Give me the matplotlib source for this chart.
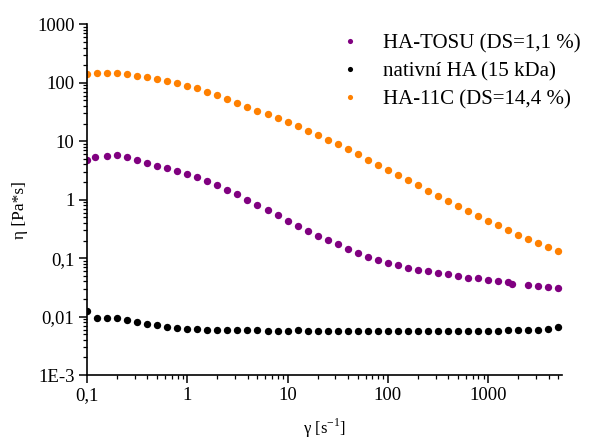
import matplotlib
matplotlib.use("Agg")
import matplotlib.pyplot as plt
from matplotlib.ticker import FixedLocator, FixedFormatter, LogLocator, NullFormatter

# shear rate [1/s]
shear_rate = [0.1, 0.126, 0.158, 0.2, 0.251, 0.316, 0.398, 0.501, 0.631, 0.794,
              1, 1.26, 1.58, 2, 2.51, 3.16, 3.98, 5.01, 6.31, 7.94,
              10, 12.6, 15.8, 20, 25.1, 31.6, 39.8, 50.1, 63.1, 79.4,
              100, 126, 158, 200, 251, 316, 398, 501, 631, 794,
              1000, 1260, 1580, 2000, 2510, 3160, 3980, 5010]

# HA-TOSU shear rates (slightly different points)
shear_rate_tosu = [0.1, 0.12, 0.158, 0.2, 0.251, 0.316, 0.398, 0.501, 0.631, 0.794,
                   1, 1.26, 1.58, 2, 2.51, 3.16, 3.98, 5.01, 6.31, 7.94,
                   10, 12.6, 15.8, 20, 25.1, 31.6, 39.8, 50.1, 63.1, 79.4,
                   100, 126, 158, 200, 251, 316, 398, 501, 631, 794,
                   1000, 1260, 1580, 1738, 2510, 3160, 3980, 5010]

eta_tosu = [4.77, 5.31, 5.65, 5.74, 5.31, 4.77, 4.29, 3.81, 3.44, 3.09,
            2.75, 2.41, 2.06, 1.76, 1.46, 1.24, 0.99, 0.81, 0.665, 0.54,
            0.436, 0.358, 0.294, 0.243, 0.201, 0.171, 0.143, 0.123, 0.106, 0.094,
            0.0834, 0.0757, 0.069, 0.0634, 0.0594, 0.0556, 0.0528, 0.0494, 0.0457, 0.0451,
            0.0427, 0.041, 0.039, 0.0365, 0.0347, 0.0333, 0.0321, 0.0308]

eta_native = [0.0124, 0.0093, 0.0095, 0.0093, 0.0086, 0.0081, 0.0076, 0.0072, 0.0067, 0.0064,
              0.0062, 0.0061, 0.0060, 0.0060, 0.0059, 0.0058, 0.0058, 0.0058, 0.0057, 0.0057,
              0.0057, 0.0058, 0.0057, 0.0057, 0.0056, 0.0057, 0.0057, 0.0057, 0.0056, 0.0057,
              0.0056, 0.0056, 0.0056, 0.0056, 0.0056, 0.0057, 0.0056, 0.0056, 0.0057, 0.0057,
              0.0057, 0.0057, 0.0058, 0.0058, 0.0059, 0.0060, 0.0062, 0.0065]

eta_11c = [143, 145, 147, 145, 140, 132, 125, 116, 107, 99,
           89, 80, 70, 62.5, 52.8, 45, 38.7, 33.3, 28.9, 24.9,
           21.1, 18.2, 15.1, 12.8, 10.6, 8.86, 7.27, 6.04, 4.82, 3.92,
           3.22, 2.64, 2.15, 1.78, 1.42, 1.17, 0.96, 0.788, 0.647, 0.531,
           0.436, 0.364, 0.303, 0.251, 0.210, 0.179, 0.153, 0.134]

labels = ["HA-TOSU (DS=1,1 %)", "nativní HA (15 kDa)", "HA-11C (DS=14,4 %)"]
colors = ["#800080", "#000000", "#ff8000"]

x_ticks = [0.1, 1, 10, 100, 1000]
x_ticklabels = ["0,1", "1", "10", "100", "1000"]
y_ticks = [1e-3, 1e-2, 1e-1, 1, 10, 100, 1000]
y_ticklabels = ["1E-3", "0,01", "0,1", "1", "10", "100", "1000"]

plt.rcParams['font.family'] = ['Liberation Serif', 'DejaVu Serif']
plt.rcParams['mathtext.fontset'] = 'custom'
plt.rcParams['mathtext.rm'] = 'Liberation Serif'

fig = plt.figure(figsize=(5.89, 4.41), dpi=100)
ax = fig.add_axes([87/589, 1-375/441, (562-87)/589, (375-24.3)/441])

ms = 5.3
ax.plot(shear_rate_tosu, eta_tosu, 'o', color=colors[0], ms=ms, mec='none', label=labels[0])
ax.plot(shear_rate, eta_native, 'o', color=colors[1], ms=ms, mec='none', label=labels[1])
ax.plot(shear_rate, eta_11c, 'o', color=colors[2], ms=ms, mec='none', label=labels[2])

ax.set_xscale('log')
ax.set_yscale('log')
ax.set_xlim(0.1, 5445)
ax.set_ylim(1e-3, 1000)

ax.xaxis.set_major_locator(FixedLocator(x_ticks))
ax.xaxis.set_major_formatter(FixedFormatter(x_ticklabels))
ax.yaxis.set_major_locator(FixedLocator(y_ticks))
ax.yaxis.set_major_formatter(FixedFormatter(y_ticklabels))
ax.xaxis.set_minor_locator(LogLocator(base=10, subs=range(2, 10), numticks=20))
ax.yaxis.set_minor_locator(LogLocator(base=10, subs=range(2, 10), numticks=20))
ax.xaxis.set_minor_formatter(NullFormatter())
ax.yaxis.set_minor_formatter(NullFormatter())

for s in ['top', 'right']:
    ax.spines[s].set_visible(False)
for s in ['left', 'bottom']:
    ax.spines[s].set_linewidth(1.2)

ax.tick_params(which='major', direction='out', length=6, width=1.1, labelsize=13.5, pad=3)
ax.tick_params(which='minor', direction='out', length=3, width=0.9)

ax.set_xlabel(r'γ [s$^{\mathregular{-1}}$]', fontsize=12, labelpad=9)
ax.set_ylabel('η [Pa*s]', fontsize=12.5)
ax.yaxis.set_label_coords(-0.125, 0.47)

leg = ax.legend(loc='upper left', bbox_to_anchor=(339/589, 1-34/441), bbox_transform=fig.transFigure,
                frameon=False, fontsize=15, markerscale=0.7, handlelength=1.04,
                handletextpad=1.05, labelspacing=0.4, borderaxespad=0, borderpad=0)

fig.savefig('out.png', dpi=100)
